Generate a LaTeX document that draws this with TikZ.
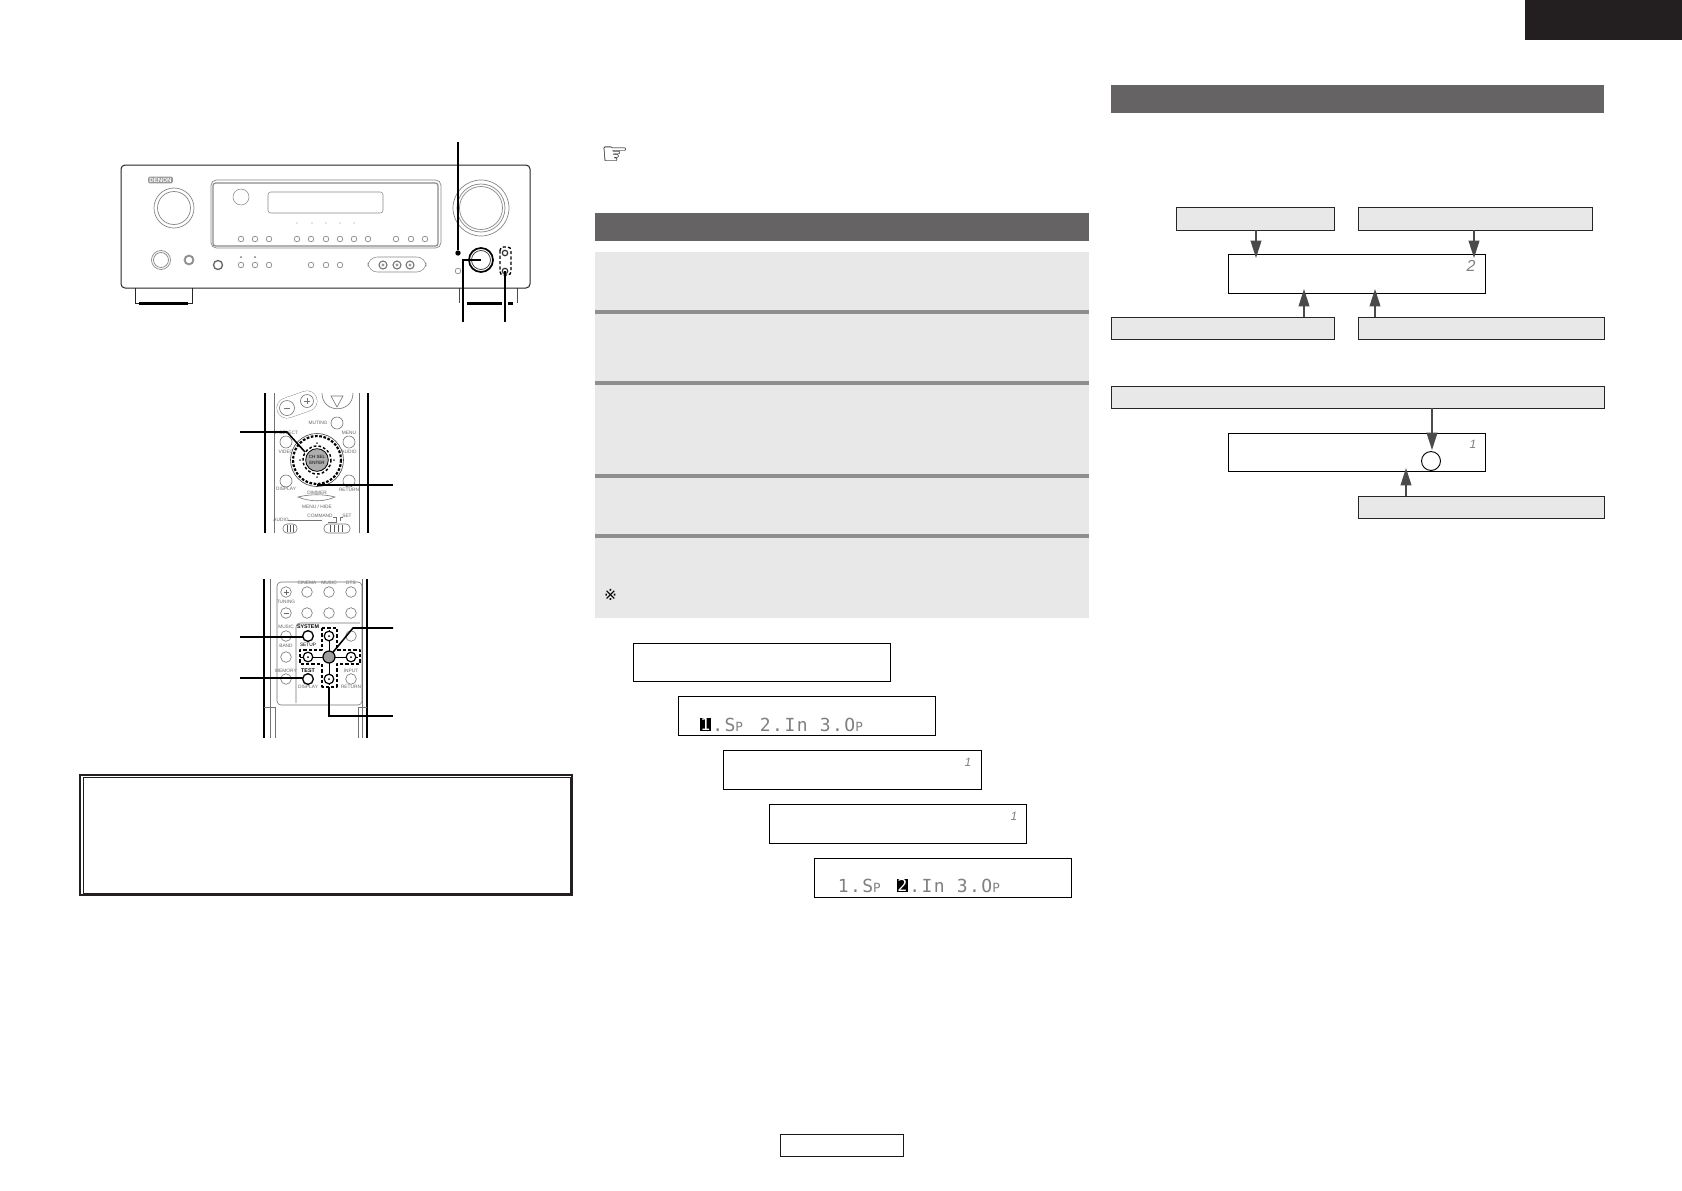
\documentclass[tikz,border=0pt]{standalone}
\usepackage{fontspec}
\setmainfont{Liberation Sans}
\newfontfamily\lcd[LetterSpace=8]{DejaVu Sans Mono}
\newfontfamily\lcdhifont{DejaVu Sans Mono}
\newfontfamily\djv{DejaVu Sans}
\usetikzlibrary{arrows.meta}
\definecolor{bar}{HTML}{656363}
\definecolor{panel}{HTML}{E8E8E8}
\definecolor{sep}{HTML}{8E8E8E}
\definecolor{arr}{HTML}{4A4A4A}
\definecolor{tab}{HTML}{231F20}
\definecolor{faint}{HTML}{8A8A8A}
\newcommand{\bx}[6]{%
  \pgfmathsetmacro\bxw{(#5-#3)*0.75}\pgfmathsetmacro\bxh{(#6-#4)*0.75}%
  \pgfmathsetmacro\bxx{(#3+#5)/2}\pgfmathsetmacro\bxy{(#4+#6)/2}%
  \node[#1,minimum width=\bxw pt,minimum height=\bxh pt] (#2) at (\bxx,\bxy) {};}
\newcommand{\lcdP}{\makebox[9.225pt][l]{\fontsize{9.5}{10}\selectfont P}}
\tikzset{
  x=0.75pt,y=-0.75pt,
  plain/.style={inner sep=0pt,outer sep=0pt,rectangle},
  barbox/.style={plain,fill=bar},
  stepbg/.style={plain,fill=panel},
  sepbar/.style={plain,fill=sep},
  lcdbox/.style={plain,draw=black,line width=0.75pt,fill=white},
  keybox/.style={plain,draw=black!85,line width=0.75pt,fill=panel},
  btn/.style={draw=faint,line width=0.4pt,fill=white},
  rbtn/.style={draw=black!55,line width=0.45pt,fill=white},
  hot/.style={draw=black,line width=1.1pt,fill=white},
  lead/.style={draw=black,line width=1.15pt},
  dashline/.style={draw=black,line width=1pt,dash pattern=on 2.4pt off 1.6pt},
  flow/.style={draw=arr,line width=1.3pt,-{Triangle[length=13pt,width=8pt]}},
  tiny/.style={inner sep=0pt,font=\fontsize{3.6}{4}\selectfont,text=black!60},
  tinyb/.style={inner sep=0pt,font=\fontsize{4}{4}\selectfont\bfseries,text=black},
  lcdtext/.style={inner sep=0pt,anchor=base west,text=black!50,font=\lcd\fontsize{13.5}{14}\selectfont},
  lcdhi/.style={inner sep=0pt,fill=black,text=white,minimum width=8.2pt,minimum height=9.8pt,font=\lcdhifont\fontsize{12.5}{13}\selectfont},
  lcdmark/.style={inner sep=0pt,text=black!50,font=\fontsize{9}{9}\selectfont\itshape},
  lcdmarkbig/.style={lcdmark,font=\fontsize{12}{12}\selectfont\itshape},
}
\begin{document}
\begin{tikzpicture}
\useasboundingbox (0,0) rectangle (1682,1190);
\fill[white] (0,0) rectangle (1682,1190);

% ---- page furniture
\bx{barbox,fill=tab}{tabtop}{1525}{0}{1682}{40}
\bx{barbox}{rbar}{1111}{85}{1604}{113}
\bx{barbox}{mbar}{595}{213}{1089}{241}
\bx{plain,draw=black!90,line width=0.75pt}{pagebox}{780}{1134}{903}{1156}
\node[inner sep=0pt,font=\djv\fontsize{23}{23}\selectfont] (hand) at (615,155.5) {☞};

% ---- step panel
\bx{stepbg}{steps}{595}{252}{1089}{618}
\bx{sepbar}{s1}{595}{310}{1089}{314}
\bx{sepbar}{s2}{595}{381}{1089}{385}
\bx{sepbar}{s3}{595}{474}{1089}{478}
\bx{sepbar}{s4}{595}{534}{1089}{538}
\node[inner sep=0pt,font=\djv\fontsize{11.5}{12}\selectfont] (note) at (610.5,595) {※};

% ---- double-frame box
\bx{plain,draw=tab,line width=1.6pt}{frameo}{80}{775}{572}{895}
\bx{plain,draw=tab,line width=0.7pt}{framei}{83}{777}{570}{893}

% ---- LCD displays, staircase
\bx{lcdbox}{d1}{633}{643}{890.5}{681.5}
\bx{lcdbox}{d2}{678}{696}{935.5}{735.5}
\bx{lcdbox}{d3}{723}{750}{981.5}{789.5}
\bx{lcdbox}{d4}{769}{804}{1026.5}{843.5}
\bx{lcdbox}{d5}{814}{858}{1071.5}{897.5}
\node[lcdhi] (h1) at (705.5,724.5) {1};
\node[lcdtext] (t1) at (712,731) {.S\lcdP{} 2.In 3.O\lcdP};
\node[lcdtext] (t2) at (837.5,892.5) {1.S\lcdP};
\node[lcdhi] (h2) at (902.5,885.5) {2};
\node[lcdtext] (t3) at (909,892.5) {.In 3.O\lcdP};
\node[lcdmark] (m3) at (968,762) {1};
\node[lcdmark] (m4) at (1014,816) {1};

% ---- right-hand flow diagrams
\bx{keybox}{ka}{1176}{207}{1334}{230}
\bx{keybox}{kb}{1358}{207}{1592}{230}
\bx{lcdbox}{c1}{1228}{254}{1485.5}{293}
\bx{keybox}{kc}{1111}{317}{1334}{339}
\bx{keybox}{kd}{1358}{317}{1604}{339}
\bx{keybox}{ke}{1111}{386}{1604}{408}
\bx{lcdbox}{c2}{1228}{433}{1485.5}{471.5}
\bx{keybox}{kf}{1358}{496}{1604}{518}
\node[lcdmarkbig] (m5) at (1471,266) {2};
\node[lcdmark] (m6) at (1473,444) {1};
\node[circle,draw=black,line width=0.7pt,fill=white,minimum size=14.2pt,inner sep=0pt,outer sep=0pt] (ring) at (1431,461) {};
\coordinate (ta) at (1256,258);
\coordinate (tb) at (1474,258);
\coordinate (tc) at (1304,289);
\coordinate (td) at (1375,289);
\coordinate (te) at (1432,450);
\coordinate (tf) at (1406,468);
\draw[flow] (ka.south -| ta) -- (ta);
\draw[flow] (kb.south -| tb) -- (tb);
\draw[flow] (kc.north -| tc) -- (tc);
\draw[flow] (kd.north -| td) -- (td);
\draw[flow] (ke.south -| te) -- (te);
\draw[flow] (kf.north -| tf) -- (tf);

% ---- receiver front panel
\draw[line width=0.75pt,black!85,fill=white] (135,288) -- (135,303) -- (192,303) -- (192,288);
\draw[line width=0.6pt,black!70] (459,288) -- (459,303) (517,288) -- (517,303);
\draw[line width=1.6pt,black] (139,303.5) -- (188,303.5) (467,303.5) -- (502,303.5) (508,303.5) -- (513,303.5);
\draw[line width=0.75pt,black!85,rounded corners=3pt] (121,288) -- (121,165) -- (530,165) -- (530,288) -- cycle;
\node[plain,fill=black!40,text=white,rounded corners=1pt,minimum width=18.5pt,minimum height=5pt,font=\fontsize{4.6}{5}\selectfont\bfseries] (logo) at (160.5,180) {DENON};
\draw[btn,line width=0.55pt] (174,208) circle (20) (174,208) circle (16.5);
\draw[btn,line width=0.55pt,rounded corners=4pt] (211,180) rectangle (441,248);
\draw[draw=faint,line width=0.9pt,rounded corners=2pt] (213,183) rectangle (438,246);
\draw[btn] (241,197) circle (8);
\draw[btn,rounded corners=2pt] (268,192) rectangle (383,213);
\foreach \x in {297,312,326,340,354} \fill[black!45] (\x,223) circle (0.7);
\foreach \x in {241,255,269,297,311,326,340,354,368,396,411,425}
  \draw[btn,line width=0.55pt] (\x,239) circle (2.8);
\draw[btn,line width=0.55pt] (481,208) circle (28) (481,208) circle (24) (481,208) circle (21.5);
\draw[btn,line width=0.55pt] (161,260) circle (9.5) (161,260) circle (7.5);
\draw[btn,line width=0.55pt] (189,260) circle (5) (189,260) circle (3.8);
\draw[draw=black!60,line width=1pt] (218,265) circle (4.5);
\foreach \x in {241,255} \fill[black!55] (\x,257) circle (1);
\foreach \x in {241,255,269,311,326,340} \draw[btn,line width=0.55pt] (\x,265) circle (2.8);
\draw[btn,rounded corners=7pt] (368,257) rectangle (426,272);
\foreach \x in {383,397,410} {\draw[draw=black!55,line width=0.8pt,fill=white] (\x,265) circle (4);\fill[black!40] (\x,265) circle (1.6);}
\draw[draw=faint,line width=0.55pt] (458,271) circle (2.8);
\node[circle,draw=black,line width=1.3pt,fill=white,minimum size=18pt,inner sep=0pt,outer sep=0pt] (vknob) at (481,260) {};
\draw[draw=black!80,line width=0.55pt] (481,260) circle (9.5);
\draw[line width=0.9pt,black!80,fill=white] (505,253) circle (2.7) (505,271) circle (2.7);
\draw[dashline,rounded corners=2.5pt] (500,247) rectangle (511,275);
\node[circle,fill=black,minimum size=4pt,inner sep=0pt,outer sep=0pt] (pdot) at (458,253) {};
\coordinate (p1) at (458,142);
\coordinate (p2) at (463,322);
\coordinate (p3) at (505,322);
\coordinate (p3e) at (505,271);
\draw[lead] (p1) -- (pdot);
\draw[lead] (p2) |- (vknob.center);
\draw[lead] (p3) -- (p3e);

% ---- remote, upper crop
\draw[line width=1.1pt] (265,393) -- (265,533) (368,393) -- (368,533);
\draw[line width=0.4pt,black!55] (274,393) -- (274,533) (359,393) -- (359,533);
\draw[line cap=round,line width=15.6pt,black!50] (287,408) -- (307,401);
\draw[line cap=round,line width=15pt,white] (287,408) -- (307,401);
\draw[rbtn] (287,408) circle (7.5) (307,401) circle (6.5);
\draw[line width=0.5pt,black!55] (284,408) -- (290,408) (304,401) -- (310,401) (307,398) -- (307,404);
\draw[rbtn] (322,393) .. controls (322,414) and (353,414) .. (353,393);
\draw[rbtn] (331,396) -- (343,396) -- (337,407) -- cycle;
\draw[rbtn] (337,423) circle (6);
\draw[rbtn] (286,442) circle (6) (349,442) circle (6) (286,481) circle (6) (349,481) circle (6);
\node[tiny] (r1a) at (318,423) {MUTING};
\node[tiny] (r1b) at (286,433) {V. SELECT};
\node[tiny] (r1c) at (286,452) {VIDEO};
\node[tiny] (r1d) at (349,433) {MENU};
\node[tiny] (r1e) at (349,452) {AUDIO};
\node[tiny] (r1f) at (286,489) {DISPLAY};
\node[tiny] (r1g) at (349,490) {RETURN};
\node[tiny] (r1h) at (317,493) {DIMMER};
\node[tiny] (r1i) at (317,507) {MENU / HIDE};
\node[tiny] (r1j) at (281,520) {AUDIO};
\node[tiny] (r1k) at (320,516) {COMMAND};
\node[tiny] (r1l) at (347,516) {SET};
\draw[rbtn] (298,497) .. controls (310,502) and (324,502) .. (335,497) .. controls (324,494) and (310,494) .. (298,497) -- cycle;
\draw[line width=0.4pt,black!55] (288,520) -- (322,520) (333,517) -- (336,517) -- (336,522) -- (328,522) (340,521) -- (340,517) -- (343,517);
\draw[rbtn,rounded corners=3pt] (283,524) rectangle (297,533);
\draw[rbtn,rounded corners=3pt] (324,524) rectangle (350,533);
\foreach \x in {287,290,293,330,334,338,342} \draw[line width=0.4pt,black!65] (\x,525) -- (\x,532);
\draw[draw=black!70,line width=0.5pt,fill=white] (317,460) circle (26.5);
\draw[dashline,line width=1.6pt,dash pattern=on 2pt off 1.2pt] (317,460) circle (24);
\draw[dashline,line width=1.1pt,dash pattern=on 2pt off 1.6pt] (317,460) circle (14);
\foreach \a/\b in {317/443,317/477,300/460,334/460} \fill[black!75] (\a,\b) circle (1);
\node[circle,draw=black,line width=0.6pt,fill=black!32,minimum size=17pt,inner sep=0pt,outer sep=0pt,align=center,font=\fontsize{3.4}{4}\selectfont] (wheel) at (317,460) {CH SEL\\ENTER};
\coordinate (q1) at (240,432);
\coordinate (q1b) at (287,432);
\coordinate (q1e) at (305,452);
\coordinate (q2) at (393,485);
\coordinate (q2e) at (317,485);
\draw[lead] (q1) -- (q1b) -- (q1e);
\draw[lead] (q2) -- (q2e);

% ---- remote, lower crop
\draw[line width=1pt] (264,579) -- (264,738) (367,579) -- (367,738);
\draw[line width=0.4pt,black!55] (270,579) -- (270,738) (362,579) -- (362,738);
\draw[line width=0.4pt,black!55] (264,707) -- (275,707) -- (275,738) (358,707) -- (367,707) (358,707) -- (358,738);
\draw[rbtn,fill=none,rounded corners=3pt] (277,582) rectangle (362,705);
\draw[rbtn,fill=none,rounded corners=3pt] (296,703) -- (296,623) -- (360,623);
\foreach \y in {592,613} \foreach \x in {286,307,329,351} \draw[rbtn] (\x,\y) circle (5.3);
\foreach \y in {636,657,679} \draw[rbtn] (286,\y) circle (5.3);
\draw[rbtn] (351,636) circle (5.3) (351,679) circle (5.3);
\draw[line width=0.45pt,black!60] (283.5,592) -- (288.5,592) (286,589.5) -- (286,594.5) (283.5,613) -- (288.5,613);
\node[tiny] (r2a) at (307,583) {CINEMA};
\node[tiny] (r2b) at (329,583) {MUSIC};
\node[tiny] (r2c) at (351,583) {DTS};
\node[tiny] (r2d) at (286,602) {TUNING};
\node[tiny] (r2e) at (286,627) {MUSIC};
\node[tiny] (r2f) at (286,646) {BAND};
\node[tiny] (r2g) at (286,671) {MEMORY};
\node[tiny] (r2h) at (351,671) {INPUT};
\node[tiny] (r2i) at (351,687) {RETURN};
\node[tiny] (r2j) at (308,687) {DISPLAY};
\node[tinyb] (r2k) at (308,627) {SYSTEM};
\node[tiny,text=black] (r2l) at (308,645) {SETUP};
\node[tinyb] (r2m) at (308,671) {TEST};
\draw[dashline,line join=round] (322,628) -- (337,628) -- (337,650) -- (360,650) -- (360,664) -- (337,664) -- (337,687) -- (322,687) -- (322,664) -- (300,664) -- (300,650) -- (322,650) -- cycle;
\draw[line width=0.6pt,black] (300,657) -- (358,657) (329,630) -- (329,685);
\foreach \a/\b in {329/636,308/657,351/657,329/679} {\draw[hot,line width=0.9pt] (\a,\b) circle (4.8);\fill[black] (\a,\b) circle (1);}
\node[circle,draw=black,line width=1pt,fill=white,minimum size=8pt,inner sep=0pt,outer sep=0pt] (sysbtn) at (308,636) {};
\node[circle,draw=black,line width=1pt,fill=white,minimum size=8pt,inner sep=0pt,outer sep=0pt] (testbtn) at (308,679) {};
\node[circle,draw=black,line width=0.9pt,fill=black!38,minimum size=9pt,inner sep=0pt,outer sep=0pt] (enterbtn) at (329,657) {};
\coordinate (w1) at (240,637);
\coordinate (w2) at (240,678);
\coordinate (w3) at (393,628);
\coordinate (w3b) at (353,628);
\coordinate (w4) at (393,716);
\coordinate (w4b) at (329,716);
\coordinate (w4e) at (329,687);
\draw[lead] (w1) -- (sysbtn.west |- w1);
\draw[lead] (w2) -- (testbtn.west |- w2);
\draw[lead] (w3) -- (w3b) -- (enterbtn);
\draw[lead] (w4) -- (w4b) -- (w4e);
\end{tikzpicture}
\end{document}
